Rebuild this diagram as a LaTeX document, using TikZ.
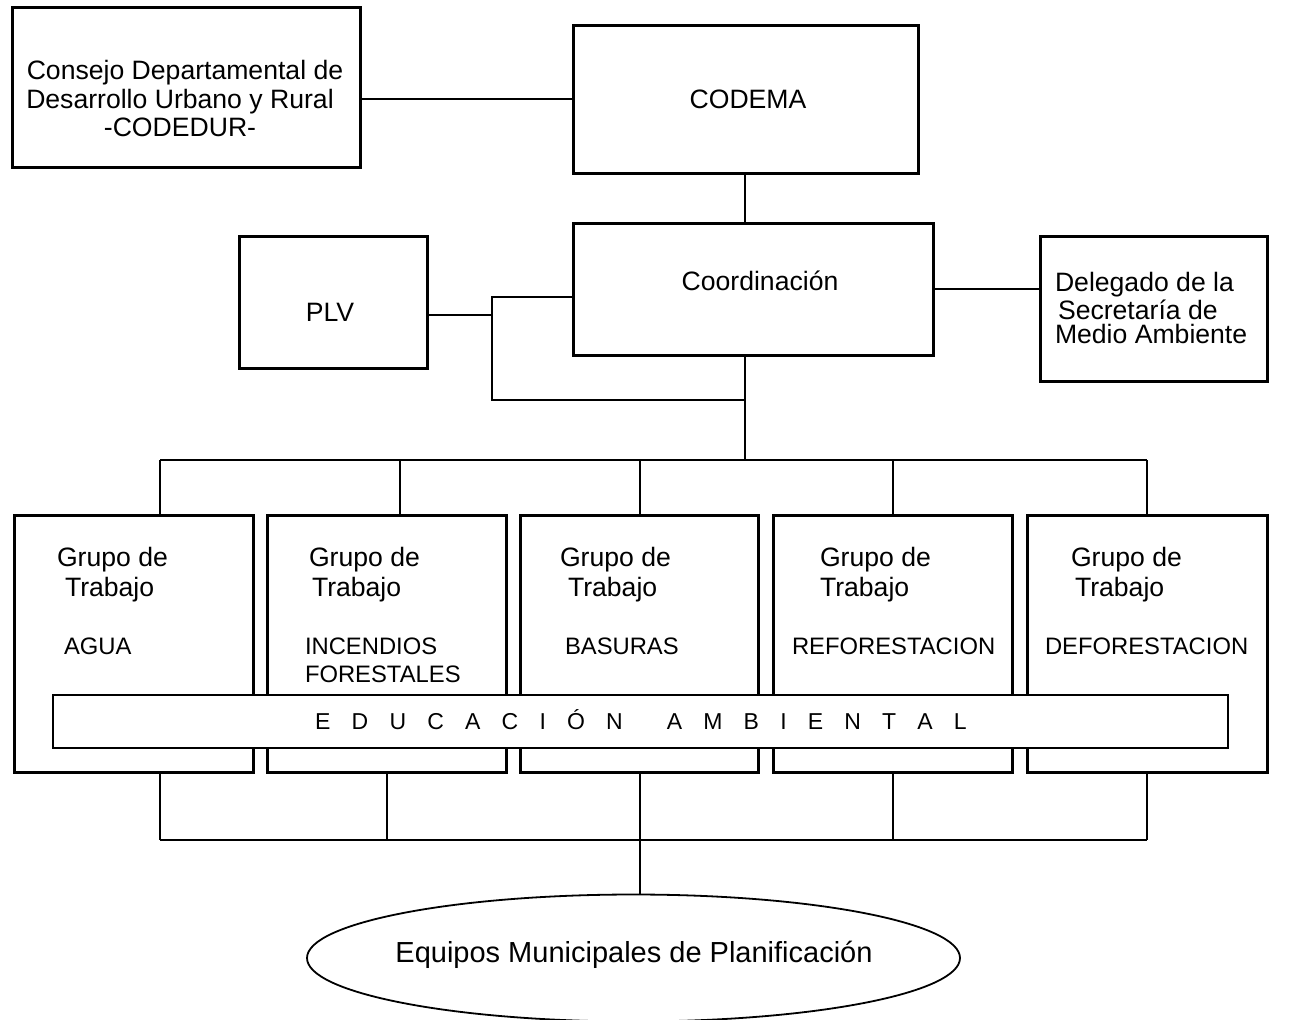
\documentclass[tikz,border=0pt]{standalone}
\usepackage{fontspec}
\setmainfont{Liberation Sans}
\usetikzlibrary{shapes.geometric}
\begin{document}
\begin{tikzpicture}[x=0.5pt,y=-0.5pt,
  box/.style={draw, line width=1.5pt, inner sep=0pt, outer sep=0pt, fill=white},
  con/.style={line width=1pt},
  txt/.style={font=\fontsize{13.3pt}{16pt}\selectfont, inner sep=0pt, outer sep=0pt},
  lbl/.style={font=\fontsize{11.9pt}{14pt}\selectfont, inner sep=0pt, outer sep=0pt},
  big/.style={font=\fontsize{14.5pt}{17pt}\selectfont, inner sep=0pt, outer sep=0pt}]
\useasboundingbox (0,0) rectangle (1296,1019);
\clip (0,0) rectangle (1296,1019);
\def\gs{\hspace{10.6pt}}
% boxes
\node[box, minimum width=174pt, minimum height=80pt] (codedur) at (186,87) {};
\node[box, minimum width=172.5pt, minimum height=74pt] (codema) at (745.5,99) {};
\node[box, minimum width=180pt, minimum height=66pt] (coord) at (753,289) {};
\node[box, minimum width=94pt, minimum height=66pt] (plv) at (333,302) {};
\node[box, minimum width=113.5pt, minimum height=72.5pt] (deleg) at (1153.5,308.5) {};
\node[box, minimum width=119.5pt, minimum height=128.5pt] (g1) at (133.5,643.5) {};
\node[box, minimum width=119.5pt, minimum height=128.5pt] (g2) at (386.5,643.5) {};
\node[box, minimum width=119pt, minimum height=128.5pt] (g3) at (639,643.5) {};
\node[box, minimum width=119.5pt, minimum height=128.5pt] (g4) at (892.5,643.5) {};
\node[box, minimum width=120pt, minimum height=128.5pt] (g5) at (1147,643.5) {};
\node[box, line width=1.1pt, minimum width=587.5pt, minimum height=26.5pt] (edu) at (640.5,721.5) {};
\node[draw, ellipse, line width=0.9pt, minimum width=326.5pt, minimum height=63.5pt, inner sep=0pt, outer sep=0pt] (ell) at (633.5,958) {};
% texts
\node[txt, anchor=base] (t1a) at (185,79.5) {Consejo Departamental de};
\node[txt, anchor=base] (t1b) at (180,108.5) {Desarrollo Urbano y Rural};
\node[txt, anchor=base] (t1c) at (180,136.5) {-CODEDUR-};
\node[txt, anchor=base] (t2) at (748,108.5) {CODEMA};
\node[txt, anchor=base] (t3) at (760,290.5) {Coordinación};
\node[txt, anchor=base] (t4) at (330,321.5) {PLV};
\node[txt, anchor=base west] (t5a) at (1055,291.5) {Delegado de la};
\node[txt, anchor=base west] (t5b) at (1058,319.5) {Secretaría de};
\node[txt, anchor=base west] (t5c) at (1055,343.5) {Medio Ambiente};
\foreach \n/\xa/\xb in {1/57/65, 2/309/312, 3/560/568, 4/820/820, 5/1071/1075}{
  \node[txt, anchor=base west] (gg\n) at (\xa,566) {Grupo de};
  \node[txt, anchor=base west] (gt\n) at (\xb,596) {Trabajo};
}
\node[lbl, anchor=base west] (l1) at (64,654) {AGUA};
\node[lbl, anchor=base west] (l2a) at (305,654) {INCENDIOS};
\node[lbl, anchor=base west] (l2b) at (305,682) {FORESTALES};
\node[lbl, anchor=base west] (l3) at (565,654) {BASURAS};
\node[lbl, anchor=base west] (l4) at (792,654) {REFORESTACION};
\node[lbl, anchor=base west] (l5) at (1045,654) {DEFORESTACION};
\node[lbl, font=\fontsize{11.5pt}{14pt}\selectfont, anchor=base] (edutxt) at (641,729) {E\gs D\gs U\gs C\gs A\gs C\gs I\gs Ó\gs N\hspace{22pt}A\gs M\gs B\gs I\gs E\gs N\gs T\gs A\gs L};
\node[big, anchor=base] (etxt) at (634,962) {Equipos Municipales de Planificación};
% connectors
\draw[con] (codedur.east |- codema.west) -- (codema.west);
\coordinate (v1) at (745,0);
\draw[con] (v1 |- codema.south) -- (v1 |- coord.north);
\draw[con] (coord.east) -- (coord.east -| deleg.west);
\coordinate (jp) at (492,315);
\coordinate (jt) at (492,297);
\coordinate (jb) at (492,400);
\draw[con] (jp -| plv.east) -- (jp);
\draw[con] (jt -| coord.west) -- (jt) -- (jb) -- (jb -| v1);
\coordinate (tb1) at (160,460);
\coordinate (tb2) at (400,460);
\coordinate (tb3) at (640,460);
\coordinate (tb4) at (893,460);
\coordinate (tb5) at (1147,460);
\draw[con] (v1 |- coord.south) -- (v1 |- tb1);
\draw[con] (tb1) -- (tb5);
\foreach \i in {1,...,5}{ \draw[con] (tb\i) -- (tb\i |- g\i.north); }
\coordinate (bb1) at (160,840);
\coordinate (bb2) at (387,840);
\coordinate (bb3) at (640,840);
\coordinate (bb4) at (893,840);
\coordinate (bb5) at (1147,840);
\foreach \i in {1,...,5}{ \draw[con] (bb\i |- g\i.south) -- (bb\i); }
\draw[con] (bb1) -- (bb5);
\draw[con] (bb3) -- (bb3 |- ell.north);
\end{tikzpicture}
\end{document}
